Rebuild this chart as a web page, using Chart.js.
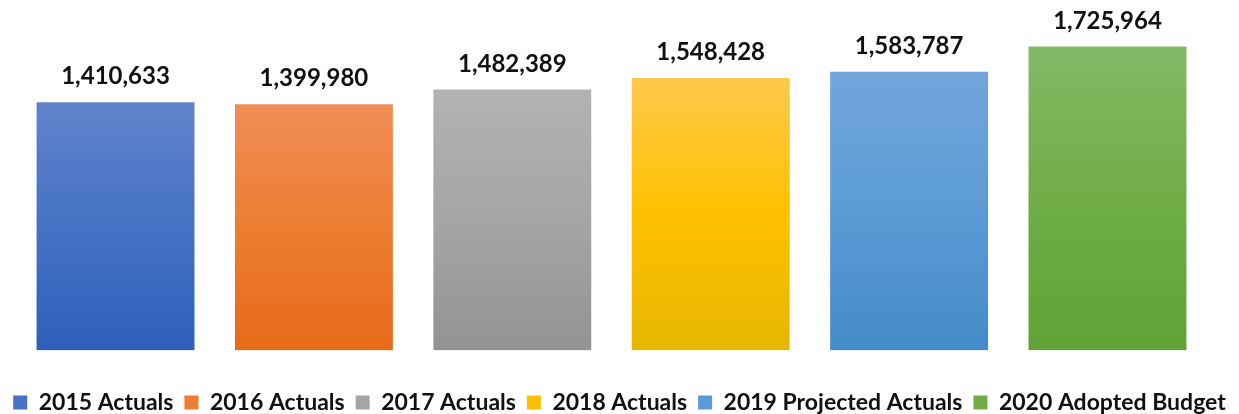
<!DOCTYPE html>
<html>
<head>
<meta charset="utf-8">
<script src="https://cdn.jsdelivr.net/npm/chart.js@4/dist/chart.umd.min.js"></script>
<style>
  html, body { margin: 0; padding: 0; background: #fff; }
  #wrap { width: 1239px; height: 414px; position: relative; }
</style>
</head>
<body>
<div id="wrap"><canvas id="budget"></canvas></div>
<script>
// one bar per year, each its own series so the legend lists them
const seriesLabels = [
  "2015 Actuals",
  "2016 Actuals",
  "2017 Actuals",
  "2018 Actuals",
  "2019 Projected Actuals",
  "2020 Adopted Budget"
];
const seriesValues = [1410633, 1399980, 1482389, 1548428, 1583787, 1725964];

// gradient stops: light top, base colour, darker bottom
const topColors = ["#6383cc", "#f08e57", "#b3b3b3", "#ffc94c", "#72a6dc", "#83b966"];
const midColors = ["#4472c4", "#ed7d31", "#a5a5a5", "#ffc000", "#5b9bd5", "#70ad47"];
const bottomColors = ["#2e5fba", "#e66b19", "#939393", "#e6b700", "#438bc9", "#60a236"];

const fmt = (v) => v.toLocaleString("en-US");

function barGradient(i) {
  return (ctx) => {
    const chart = ctx.chart;
    if (!chart.chartArea || ctx.raw == null) return midColors[i];
    const y = chart.scales.y;
    const top = y.getPixelForValue(ctx.raw);
    const bottom = y.getPixelForValue(0);
    const g = chart.ctx.createLinearGradient(0, top, 0, bottom);
    g.addColorStop(0, topColors[i]);
    g.addColorStop(0.5, midColors[i]);
    g.addColorStop(1, bottomColors[i]);
    return g;
  };
}

// value labels above each bar
const valueLabels = {
  id: "valueLabels",
  afterDatasetsDraw(chart) {
    const c = chart.ctx;
    c.save();
    c.font = "bold 24px Lato, 'Open Sans', sans-serif";
    c.fillStyle = "#111";
    c.textAlign = "center";
    c.textBaseline = "alphabetic";
    chart.data.datasets.forEach((ds, i) => {
      const meta = chart.getDatasetMeta(i);
      meta.data.forEach((bar, j) => {
        c.fillText(fmt(ds.data[j]), bar.x, bar.y - 17);
      });
    });
    c.restore();
  }
};

// legend sits low, its bottom padding runs off the canvas edge
const tightLegend = {
  id: "tightLegend",
  afterInit(chart) {
    const legend = chart.legend;
    const fit = legend.fit;
    legend.fit = function () {
      fit.call(this);
      this.height -= 10;
    };
  }
};

const datasets = seriesLabels.map((label, i) => ({
  label: label,
  data: [seriesValues[i]],
  backgroundColor: barGradient(i),
  borderColor: "rgba(255,255,255,0.45)",
  borderWidth: 1
}));

new Chart(document.getElementById("budget"), {
  type: "bar",
  data: { labels: [""], datasets: datasets },
  options: {
    responsive: true,
    maintainAspectRatio: false,
    animation: false,
    layout: { padding: { top: 6, left: 0, right: 0, bottom: 0 } },
    datasets: {
      bar: { categoryPercentage: 0.9733, barPercentage: 0.806 }
    },
    scales: {
      // empty axis, only used as a gap above the legend
      x: {
        display: true,
        ticks: { display: false },
        grid: { display: false, drawTicks: true, tickLength: 29.5 },
        border: { display: false }
      },
      y: {
        display: true,
        position: "right",
        min: 0,
        max: 1950000,
        ticks: { display: false },
        grid: { display: false },
        border: { display: false },
        afterFit(scale) { scale.width = 16; }
      }
    },
    plugins: {
      tooltip: { enabled: false },
      legend: {
        position: "bottom",
        labels: {
          boxWidth: 14,
          boxHeight: 14,
          padding: 11,
          color: "#111",
          font: { family: "Lato, 'Open Sans', sans-serif", size: 23, weight: "bold" },
          generateLabels(chart) {
            return chart.data.datasets.map((ds, i) => ({
              text: ds.label,
              fillStyle: midColors[i],
              strokeStyle: midColors[i],
              lineWidth: 0,
              hidden: false,
              datasetIndex: i,
              fontColor: "#111"
            }));
          }
        }
      }
    }
  },
  plugins: [valueLabels, tightLegend]
});
</script>
</body>
</html>
